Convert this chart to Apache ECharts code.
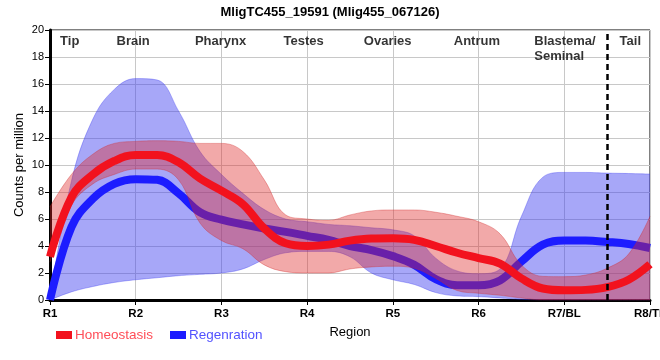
<!DOCTYPE html>
<html>
<head>
<meta charset="utf-8">
<script src="https://cdn.jsdelivr.net/npm/echarts@6/dist/echarts.min.js"></script>
<style>html,body{margin:0;padding:0;background:#fff}#c{width:660px;height:360px}</style>
</head>
<body>
<div id="c"></div>
<script>
// x positions (region units; 0 = R1 ... 7 = R8/TL)
const xs = [0,0.25,0.5,0.75,1,1.25,1.5,1.75,2,2.25,2.5,2.75,3,3.25,3.5,3.75,4,4.25,4.5,4.75,5,5.25,5.5,5.75,6,6.25,6.5,6.75,7];
const tickLabels = ['R1','R2','R3','R4','R5','R6','R7/BL','R8/TL'];
const regionNames = ['Tip','Brain','Pharynx','Testes','Ovaries','Antrum','Blastema/\nSeminal','Tail'];
const regionPos = [0.23,0.97,1.99,2.96,3.94,4.98,5.65,6.77];
const dashX = [6.5];

const homeoMean  = [3.2,7.6,9.3,10.3,10.75,10.75,10.2,9.0,8.1,7.1,5.3,4.2,4.0,4.1,4.4,4.55,4.57,4.45,4.0,3.5,3.1,2.7,1.6,0.85,0.72,0.75,0.95,1.5,2.65];
const homeoUpper = [6.9,9.3,10.8,11.6,11.75,11.8,11.75,11.6,11.6,11.0,8.9,6.3,6.0,5.9,6.3,6.6,6.67,6.67,6.5,6.2,5.8,4.9,2.6,1.75,1.73,1.85,2.35,3.4,6.2];
const homeoLower = [2.8,7.0,8.6,9.3,9.7,9.7,8.9,5.7,4.4,3.8,2.6,2.1,2.0,2.0,2.3,2.45,2.5,2.35,1.6,0.7,0.5,0.35,0.15,0,0,0,0,0,0];

const regenMean  = [0,5.4,7.5,8.6,8.95,8.9,7.9,6.5,5.95,5.6,5.3,5.05,4.75,4.45,4.0,3.7,3.25,2.6,1.55,1.1,1.1,1.45,2.85,4.1,4.4,4.4,4.3,4.15,3.85];
const regenUpper = [0,8.8,13.4,15.6,16.4,16.3,14.0,11.0,9.3,7.9,6.7,6.0,5.8,5.6,5.5,5.35,5.2,4.75,3.1,2.15,1.95,2.3,6.2,9.1,9.45,9.45,9.4,9.37,9.33];
const regenLower = [0,0.6,1.0,1.3,1.5,1.65,1.8,1.9,2.0,2.3,3.0,3.5,3.6,3.6,3.2,2.0,1.5,1.15,0.55,0.3,0.25,0.15,0.05,0,0,0,0,0,0];

const diff = (up, lo) => up.map((u, i) => +(u - lo[i]).toFixed(3));
const step = Math.round(1 / (xs[1] - xs[0])); // categories per region

const SM = 0.4;
function band(name, lo, up, fill, edge, stack, z) {
  return [
    { name: name + '_lo', type: 'line', stack: stack, data: lo, smooth: SM, showSymbol: false, silent: true, z: z,
      lineStyle: { width: 1, color: edge } },
    { name: name + '_up', type: 'line', stack: stack, data: diff(up, lo), smooth: SM, showSymbol: false, silent: true, z: z,
      lineStyle: { width: 1, color: edge }, areaStyle: { color: fill, opacity: 1 } }
  ];
}

const font = 'Liberation Sans';
const chart = echarts.init(document.getElementById('c'), null, { renderer: 'canvas' });
chart.setOption({
  animation: false,
  backgroundColor: '#fff',
  title: { text: 'MligTC455_19591 (Mlig455_067126)', left: 'center', top: 1,
    textStyle: { fontFamily: font, fontSize: 13, fontWeight: 'bold', color: '#000' } },
  grid: { left: 50, right: 10, top: 30, bottom: 60, show: true, borderColor: '#000', borderWidth: 1,
    containLabel: false, outerBoundsMode: 'none' },
  legend: {
    left: 51, top: 323, itemWidth: 16, itemHeight: 8, itemGap: 17, icon: 'rect',
    data: [
      { name: 'Homeostasis', textStyle: { color: '#ff4d57' } },
      { name: 'Regenration', textStyle: { color: '#5252ff' } }
    ],
    textStyle: { fontFamily: font, fontSize: 13.5, padding: [0,0,0,-2] }
  },
  xAxis: [{
    type: 'category', boundaryGap: false, data: xs.map(String),
    name: 'Region', nameLocation: 'middle', nameGap: 26,
    nameTextStyle: { fontFamily: font, fontSize: 13, color: '#000' },
    axisLine: { onZero: false, lineStyle: { color: '#000', width: 3 } },
    axisTick: { show: true, interval: step - 1, length: 5, lineStyle: { color: '#000', width: 1 } },
    axisLabel: { interval: step - 1, formatter: (v, i) => tickLabels[i / step] || '', fontFamily: font, fontSize: 11.5,
      fontWeight: 'bold', color: '#000', margin: 8, hideOverlap: false },
    splitLine: { show: true, interval: step - 1, lineStyle: { color: '#c8c8c8', width: 1 } }
  }, {
    type: 'value', min: 0, max: 7, interval: 1, show: false, position: 'bottom'
  }],
  yAxis: {
    type: 'value', min: 0, max: 20, interval: 2,
    name: 'Counts per million', nameLocation: 'middle', nameGap: 24, nameMoveOverlap: false,
    nameTextStyle: { fontFamily: font, fontSize: 13, color: '#000' },
    axisLine: { show: true, lineStyle: { color: '#000', width: 3 } },
    axisTick: { show: true, length: 5, lineStyle: { color: '#000', width: 1 } },
    axisLabel: { fontFamily: font, fontSize: 11, color: '#000', margin: 6 },
    splitLine: { show: true, lineStyle: { color: '#c8c8c8', width: 1 } }
  },
  series: [
    ...band('regenBand', regenLower, regenUpper, 'rgba(60,60,240,0.45)', 'rgba(60,60,240,0.35)', 'rb', 2),
    { name: 'Regenration', type: 'line', data: regenMean, smooth: SM, showSymbol: false, z: 3,
      color: '#1c1cff', lineStyle: { width: 8, color: '#1c1cff' } },
    ...band('homeoBand', homeoLower, homeoUpper, 'rgba(222,40,40,0.4)', 'rgba(210,40,40,0.35)', 'hb', 4),
    { name: 'Homeostasis', type: 'line', data: homeoMean, smooth: SM, showSymbol: false, z: 5,
      color: '#f2121e', lineStyle: { width: 8, color: '#f2121e' } },
    { name: 'regions', type: 'scatter', xAxisIndex: 1, symbolSize: 0, silent: true, z: 6,
      data: regionNames.map((n, i) => ({ value: [regionPos[i], 19.7], name: n,
        label: n.indexOf('\n') >= 0 ? { align: 'left' } : { align: 'center' } })),
      label: { show: true, position: 'inside', formatter: p => p.name, verticalAlign: 'top',
        fontFamily: font, fontSize: 13, fontWeight: 'bold', color: '#000', lineHeight: 15 },
      markLine: { silent: true, symbol: 'none', label: { show: false }, z: 6,
        lineStyle: { color: '#000', width: 2.5, type: [6, 4] },
        data: dashX.map(v => ({ xAxis: v })) } }
  ]
});
</script>
</body>
</html>
